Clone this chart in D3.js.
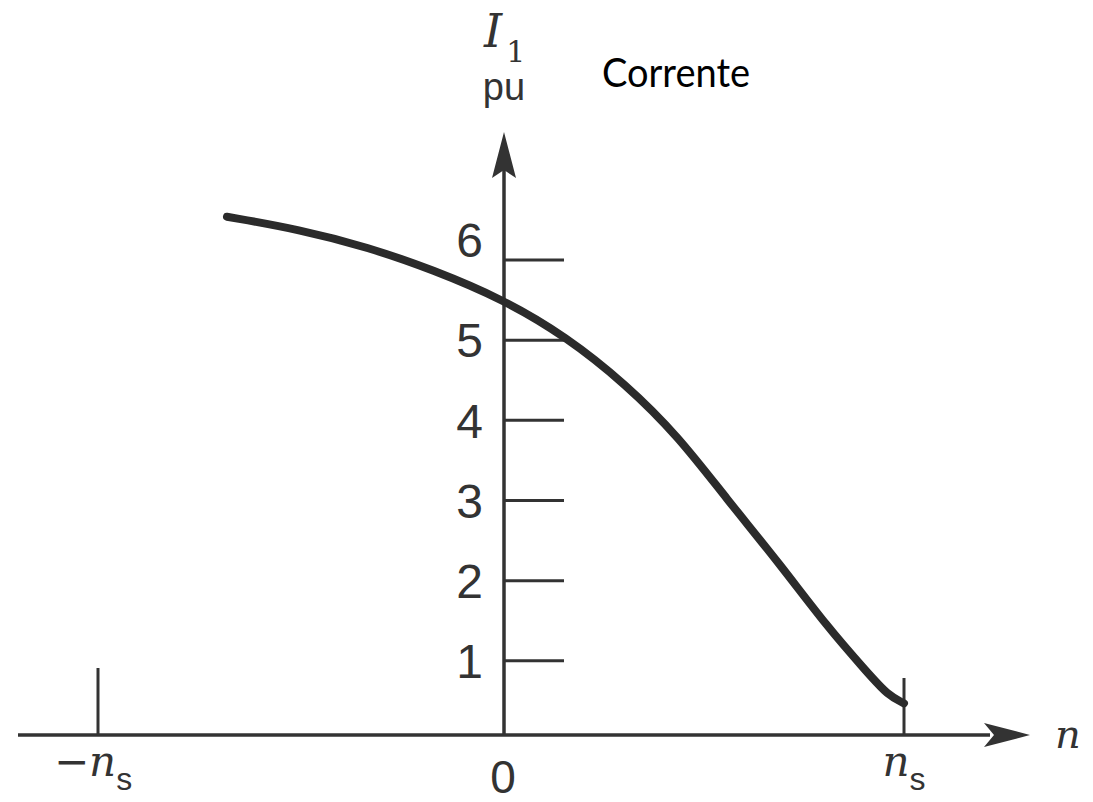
<!DOCTYPE html>
<html>
<head>
<meta charset="utf-8">
<script src="https://cdn.jsdelivr.net/npm/d3@7"></script>
<style>
  body { margin: 0; background: #fff; }
</style>
</head>
<body>
<div id="chart"></div>
<script>
// speed in units of n_s, current in pu
const speed = [-0.68, -0.50, -0.33, -0.17, 0.005, 0.16, 0.31, 0.44, 0.56, 0.69, 0.81, 0.91, 0.96, 1.0];
const current = [6.54, 6.38, 6.16, 5.88, 5.51, 5.05, 4.45, 3.80, 3.02, 2.22, 1.42, 0.85, 0.57, 0.47];
const yTicks = [1, 2, 3, 4, 5, 6];
const xMarks = [-1, 1];

const width = 1093,
    height = 802;
const ink = "#333";

const svg = d3.select("#chart")
  .append("svg")
    .attr("width", width)
    .attr("height", height);

const x = d3.scaleLinear().domain([-1, 1]).range([98, 904]);
const y = d3.scaleLinear().domain([0, 6]).range([741, 260]);
const base = 735; // where the n axis is drawn

// n axis with arrow
svg.append("line")
  .attr("x1", 18).attr("x2", 990)
  .attr("y1", base).attr("y2", base)
  .attr("stroke", ink).attr("stroke-width", 3.5);
svg.append("path")
  .attr("d", `M1030,${base} L984,${base - 12} L994,${base} L984,${base + 12} Z`)
  .attr("fill", ink);

// I axis with arrow
const x0 = x(0) + 3;
svg.append("line")
  .attr("x1", x0).attr("x2", x0)
  .attr("y1", base).attr("y2", 170)
  .attr("stroke", ink).attr("stroke-width", 3.5);
svg.append("path")
  .attr("d", `M${x0},132 L${x0 - 12},178 L${x0},170 L${x0 + 12},178 Z`)
  .attr("fill", ink);

// ticks to the right of the I axis
svg.selectAll(".ytick")
  .data(yTicks)
  .join("line")
    .attr("x1", x0).attr("x2", x0 + 60)
    .attr("y1", d => y(d)).attr("y2", d => y(d))
    .attr("stroke", ink).attr("stroke-width", 3);

svg.selectAll(".ylabel")
  .data(yTicks)
  .join("text")
    .attr("x", 483)
    .attr("y", d => y(d) + (d === 6 ? -20 : 0))
    .attr("dy", "0.36em")
    .attr("text-anchor", "end")
    .attr("font-family", "Liberation Sans, Arial, sans-serif")
    .attr("font-size", 48)
    .attr("fill", ink)
    .text(d => d);

// -n_s and n_s marks
svg.selectAll(".xmark")
  .data(xMarks)
  .join("line")
    .attr("x1", d => x(d)).attr("x2", d => x(d))
    .attr("y1", d => d < 0 ? 668 : 678).attr("y2", base)
    .attr("stroke", ink).attr("stroke-width", 3);

const serif = "DejaVu Serif, Liberation Serif, serif";
const sans = "Liberation Sans, Arial, sans-serif";

svg.selectAll(".xlabel")
  .data(xMarks)
  .join("text")
    .attr("x", d => x(d) + (d < 0 ? -5 : 0))
    .attr("y", 776)
    .attr("text-anchor", "middle")
    .attr("font-family", serif)
    .attr("font-style", "italic")
    .attr("font-size", 42)
    .attr("fill", ink)
    .call(t => {
      t.append("tspan").text(d => d < 0 ? "\u2212n" : "n");
      t.append("tspan")
        .attr("font-family", sans)
        .attr("font-style", "normal")
        .attr("font-size", 32)
        .attr("dy", 14)
        .text("s");
    });

svg.append("text")
  .attr("x", x(0) + 2).attr("y", 793)
  .attr("text-anchor", "middle")
  .attr("font-family", sans)
  .attr("font-size", 46)
  .attr("fill", ink)
  .text("0");

svg.append("text")
  .attr("x", 1055).attr("y", 748)
  .attr("font-family", serif)
  .attr("font-style", "italic")
  .attr("font-size", 40)
  .attr("fill", ink)
  .text("n");

// I1 / pu axis title
svg.append("text")
  .attr("x", 484).attr("y", 47)
  .attr("font-family", serif)
  .attr("font-style", "italic")
  .attr("font-size", 46)
  .attr("fill", ink)
  .call(t => {
    t.append("tspan").text("I");
    t.append("tspan")
      .attr("font-style", "normal")
      .attr("font-size", 30)
      .attr("dx", 4)
      .attr("dy", 15)
      .text("1");
  });
svg.append("text")
  .attr("x", 504).attr("y", 100)
  .attr("text-anchor", "middle")
  .attr("font-family", sans)
  .attr("font-size", 38)
  .attr("fill", ink)
  .text("pu");

svg.append("text")
  .attr("x", 602).attr("y", 87)
  .attr("font-family", "Lato, Open Sans, sans-serif")
  .attr("font-size", 40)
  .attr("textLength", 148)
  .attr("lengthAdjust", "spacingAndGlyphs")
  .attr("fill", "#000")
  .text("Corrente");

// the current curve
const points = speed.map((s, i) => [s, current[i]]);
const line = d3.line()
  .x(d => x(d[0]))
  .y(d => y(d[1]))
  .curve(d3.curveBasis);

svg.append("path")
  .datum(points)
  .attr("d", line)
  .attr("fill", "none")
  .attr("stroke", "#2b2b2b")
  .attr("stroke-width", 8)
  .attr("stroke-linecap", "round");
</script>
</body>
</html>
